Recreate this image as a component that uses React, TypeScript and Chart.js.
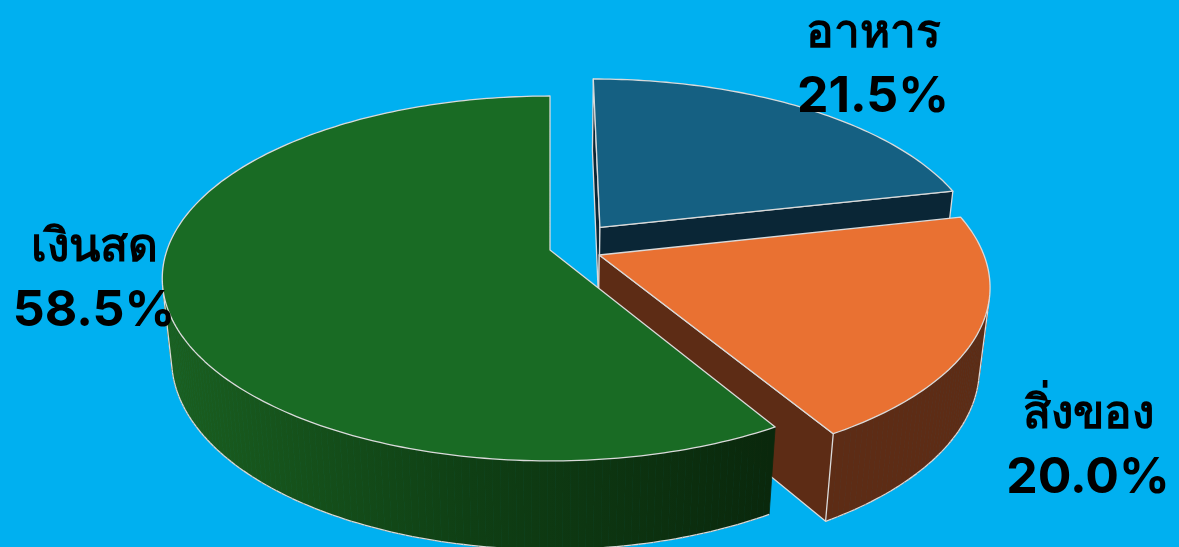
import React, { useEffect, useRef } from "react";
import { Chart, registerables } from "chart.js";

Chart.register(...registerables);

const categories = ["อาหาร", "สิ่งของ", "เงินสด"];
const shares = [21.5, 20.0, 58.5];
const topColors = ["#156082", "#E97132", "#196B24"];

// Style: how the flat pie is tilted and pulled apart on the page
const WIDTH = 1179;
const HEIGHT = 547;
const BACKGROUND = "#00B0F0";
const EDGE = "#DADADA";
const VIEW = { cx: 550, cy: 250, a: 383, b: 178, k: 0.156, m: 0.024, n: 82 };
const EXPLODE = [
  [0.133, -0.13],
  [0.128, 0.028],
  [0, 0],
];
const LABEL_ANCHORS = [
  { x: 873, y: 48 },
  { x: 1088, y: 429 },
  { x: 94, y: 262 },
];

type Pt = { x: number; y: number };

function project(u: number, v: number, depth: number): Pt {
  const w = 1 - VIEW.k * v + VIEW.m * depth;
  return {
    x: VIEW.cx + (VIEW.a * u) / w,
    y: VIEW.cy + (VIEW.b * v + VIEW.n * depth) / w,
  };
}

function arcPoints(start: number, end: number, dx: number, dy: number, depth: number) {
  const steps = Math.max(2, Math.ceil(((end - start) * 180) / Math.PI));
  const pts: Pt[] = [];
  for (let i = 0; i <= steps; i++) {
    const t = start + ((end - start) * i) / steps;
    pts.push(project(Math.cos(t) + dx, Math.sin(t) + dy, depth));
  }
  return pts;
}

function trace(ctx: CanvasRenderingContext2D, pts: Pt[]) {
  ctx.beginPath();
  pts.forEach((p, i) => (i ? ctx.lineTo(p.x, p.y) : ctx.moveTo(p.x, p.y)));
}

function edge(ctx: CanvasRenderingContext2D, pts: Pt[]) {
  trace(ctx, pts);
  ctx.strokeStyle = EDGE;
  ctx.lineWidth = 1.3;
  ctx.lineJoin = "round";
  ctx.stroke();
}

function face(ctx: CanvasRenderingContext2D, pts: Pt[], fill: any) {
  trace(ctx, pts);
  ctx.closePath();
  ctx.fillStyle = fill;
  ctx.fill();
  ctx.strokeStyle = EDGE;
  ctx.lineWidth = 1.3;
  ctx.lineJoin = "round";
  ctx.stroke();
}

function signedArea(pts: Pt[]) {
  let s = 0;
  pts.forEach((p, i) => {
    const q = pts[(i + 1) % pts.length];
    s += p.x * q.y - q.x * p.y;
  });
  return s;
}

// The curved outer wall: only strips that face the viewer, outlined along the
// lower rim and along the strips where the wall turns out of sight.
function outerWall(ctx: CanvasRenderingContext2D, top: Pt[], bottom: Pt[], fill: any) {
  const facing: boolean[] = [];
  for (let i = 0; i < top.length - 1; i++) {
    const quad = [top[i], top[i + 1], bottom[i + 1], bottom[i]];
    const front = signedArea(quad) < 0;
    facing.push(front);
    if (!front) continue;
    trace(ctx, quad);
    ctx.closePath();
    ctx.fillStyle = fill;
    ctx.strokeStyle = fill;
    ctx.lineWidth = 0.8;
    ctx.fill();
    ctx.stroke();
  }
  for (let i = 0; i < facing.length; i++) {
    if (!facing[i]) continue;
    edge(ctx, [bottom[i], bottom[i + 1]]);
    if (i > 0 && !facing[i - 1]) edge(ctx, [top[i], bottom[i]]);
    if (i < facing.length - 1 && !facing[i + 1]) edge(ctx, [top[i + 1], bottom[i + 1]]);
  }
}

function wallFill(ctx: CanvasRenderingContext2D, index: number) {
  if (index === 2) {
    const g = ctx.createLinearGradient(170, 0, 770, 0);
    g.addColorStop(0, "#1A5F20");
    g.addColorStop(0.5, "#0F3F14");
    g.addColorStop(1, "#0A280C");
    return g;
  }
  return index === 0 ? "#0A2636" : "#5D2C15";
}

const pie3d = {
  id: "pie3d",
  beforeDatasetDraw(chart: any, args: any) {
    const ctx = chart.ctx as CanvasRenderingContext2D;
    const meta = chart.getDatasetMeta(args.index);
    ctx.save();
    meta.data.forEach((arc: any, i: number) => {
      const { startAngle, endAngle } = arc.getProps(["startAngle", "endAngle"], true);
      const [dx, dy] = EXPLODE[i];
      const top = arcPoints(startAngle, endAngle, dx, dy, 0);
      const bottom = arcPoints(startAngle, endAngle, dx, dy, 1);
      const fill = wallFill(ctx, i);
      const apexTop = project(dx, dy, 0);
      const apexBottom = project(dx, dy, 1);
      const startWall = [apexTop, top[0], bottom[0], apexBottom];
      const endWall = [apexTop, top[top.length - 1], bottom[bottom.length - 1], apexBottom];
      outerWall(ctx, top, bottom, fill);
      if (signedArea(startWall) < -1) face(ctx, startWall, fill);
      if (signedArea(endWall) > 1) face(ctx, endWall, fill);
      face(ctx, [apexTop, ...top], arc.options.backgroundColor);
    });
    ctx.restore();
    return false;
  },
  afterDatasetsDraw(chart: any) {
    const ctx = chart.ctx as CanvasRenderingContext2D;
    ctx.save();
    ctx.fillStyle = "#000000";
    ctx.textAlign = "center";
    ctx.textBaseline = "alphabetic";
    categories.forEach((name, i) => {
      const at = LABEL_ANCHORS[i];
      ctx.font = '700 46px "Noto Sans", "DejaVu Sans", sans-serif';
      ctx.fillText(name, at.x, at.y - 1);
      ctx.font = '700 50px Inter, "Noto Sans", sans-serif';
      ctx.fillText(`${shares[i].toFixed(1)}%`, at.x, at.y + 64);
    });
    ctx.restore();
  },
};

export default function App() {
  const ref = useRef<HTMLCanvasElement>(null);
  useEffect(() => {
    document.body.style.margin = "0";
    document.body.style.background = BACKGROUND;
    const chart = new Chart(ref.current!, {
      type: "pie",
      data: {
        labels: categories,
        datasets: [{ data: shares, backgroundColor: topColors }],
      },
      options: {
        animation: false,
        responsive: false,
        plugins: { legend: { display: false }, tooltip: { enabled: false } },
      },
      plugins: [pie3d],
    } as any);
    return () => chart.destroy();
  }, []);
  return (
    <div style={{ width: WIDTH, height: HEIGHT, overflow: "hidden", background: BACKGROUND }}>
      <canvas ref={ref} width={WIDTH} height={HEIGHT} style={{ display: "block", width: WIDTH, height: HEIGHT }} />
    </div>
  );
}
